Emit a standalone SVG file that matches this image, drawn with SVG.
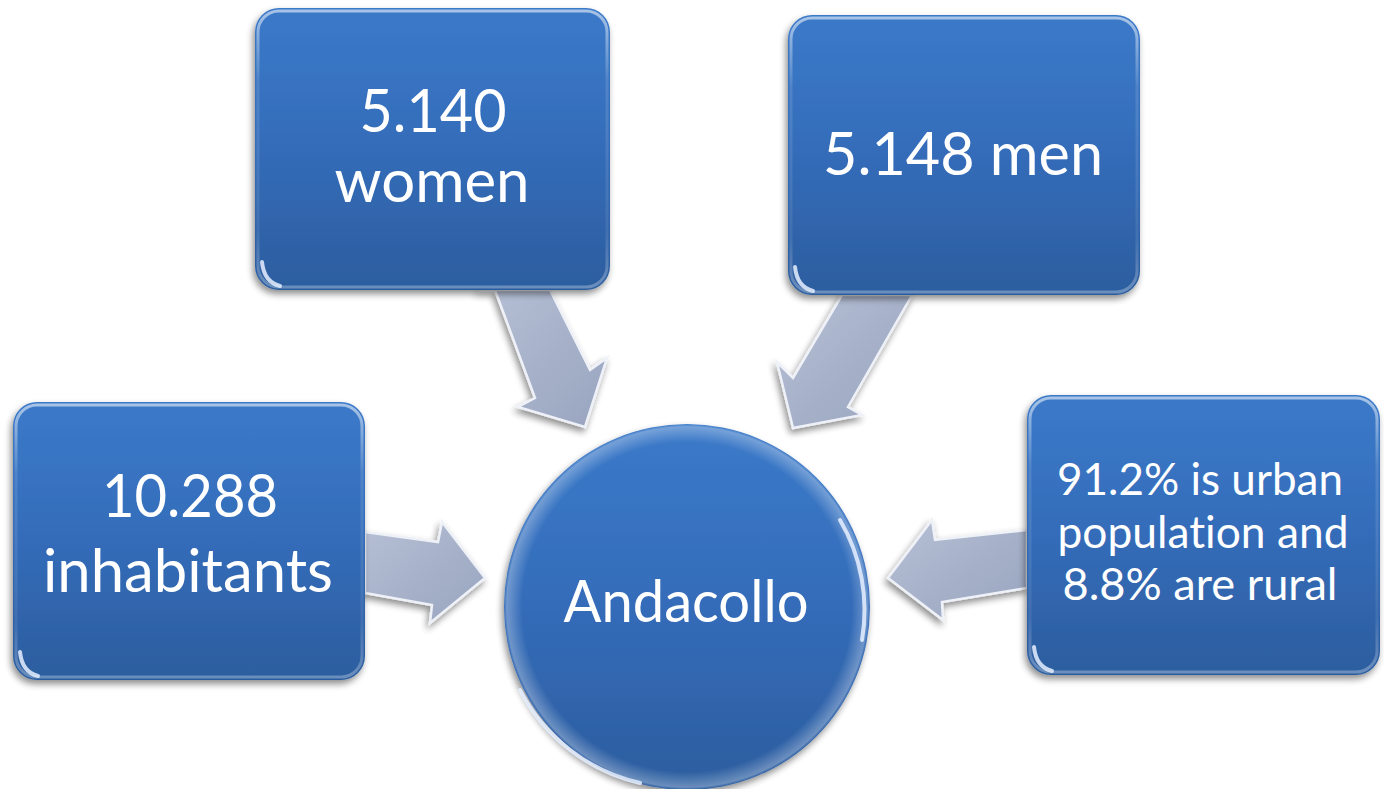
<svg xmlns="http://www.w3.org/2000/svg" width="1384" height="789" viewBox="0 0 1384 789">
  <defs>
    <linearGradient id="boxFill" x1="0" y1="0" x2="0" y2="1">
      <stop offset="0" stop-color="#3b7ac9"/>
      <stop offset="0.5" stop-color="#346cb9"/>
      <stop offset="1" stop-color="#2c5d9f"/>
    </linearGradient>
    <linearGradient id="rimLight" x1="0" y1="0" x2="0" y2="1">
      <stop offset="0" stop-color="#ffffff" stop-opacity="0.55"/>
      <stop offset="0.25" stop-color="#ffffff" stop-opacity="0.12"/>
      <stop offset="0.8" stop-color="#ffffff" stop-opacity="0.08"/>
      <stop offset="1" stop-color="#ffffff" stop-opacity="0.3"/>
    </linearGradient>
    <linearGradient id="arrowFill" x1="0" y1="0" x2="1" y2="1">
      <stop offset="0" stop-color="#b6bfd4"/>
      <stop offset="1" stop-color="#98a4bf"/>
    </linearGradient>
    <radialGradient id="circleRim" cx="0.5" cy="0.5" r="0.5">
      <stop offset="0.9" stop-color="#ffffff" stop-opacity="0"/>
      <stop offset="0.985" stop-color="#ffffff" stop-opacity="0.3"/>
      <stop offset="1" stop-color="#ffffff" stop-opacity="0"/>
    </radialGradient>
    <filter id="shadow" x="-10%" y="-10%" width="125%" height="125%">
      <feGaussianBlur in="SourceAlpha" stdDeviation="3.5"/>
      <feOffset dx="-2" dy="4" result="blur"/>
      <feComponentTransfer><feFuncA type="linear" slope="0.45"/></feComponentTransfer>
      <feMerge><feMergeNode/><feMergeNode in="SourceGraphic"/></feMerge>
    </filter>
  </defs>
  <style>
    .box { fill: url(#boxFill); filter: url(#shadow); }
    .rim { fill: none; stroke: url(#rimLight); stroke-width: 3; }
    .gloss { fill: none; stroke: #e6f0ff; stroke-width: 4; stroke-linecap: round; opacity: 0.85; }
    .arrow { fill: url(#arrowFill); stroke: #eef1f7; stroke-width: 2.5; stroke-linejoin: miter; filter: url(#shadow); }
    .label { font-family: Lato, "Open Sans", "Liberation Sans", sans-serif; fill: #ffffff; text-anchor: middle; font-variant-ligatures: none; }
    .big { font-size: 60px; }
    .small { font-size: 45px; }
  </style>

  <rect width="1384" height="789" fill="#ffffff"/>

  <!-- connectors: block arrows pointing at the centre circle -->
  <g id="connectors">
    <polygon class="arrow" points="477,290 550,290 590,370 607,358 585,427 518,407 535,398 495,290"/>
    <polygon class="arrow" points="842,295 912,295 848,407 862,415 793,428 777,362 793,378"/>
    <polygon class="arrow" points="365,532 438,542 442,522 485,578 430,623 432,605 365,593"/>
    <polygon class="arrow" points="1027,530 935,540 932,520 888,578 943,620 942,602 1027,588"/>
  </g>

  <!-- centre node -->
  <g id="node-andacollo">
    <circle class="box" cx="687" cy="607" r="183"/>
    <circle cx="687" cy="607" r="183" fill="url(#circleRim)"/>
    <path class="gloss" d="M 520,690 A 180,180 0 0 0 640,783" opacity="0.6" stroke-width="3"/>
    <path class="gloss" d="M 840,520 A 178,178 0 0 1 862,640" opacity="0.3" stroke-width="2.5"/>
    <text class="label" x="686" y="622" font-size="58" textLength="245" lengthAdjust="spacingAndGlyphs">Andacollo</text>
  </g>

  <!-- women -->
  <g id="node-women">
    <rect class="box" x="255" y="8" width="355" height="282" rx="24"/>
    <rect class="rim" x="258" y="11" width="349" height="276" rx="21"/>
    <path class="gloss" d="M 262,262 Q 264,282 280,286"/>
    <text class="label big" x="433" y="132" textLength="147" lengthAdjust="spacingAndGlyphs">5.140</text>
    <text class="label big" x="432" y="202" textLength="195" lengthAdjust="spacingAndGlyphs">women</text>
  </g>

  <!-- men -->
  <g id="node-men">
    <rect class="box" x="788" y="15" width="352" height="280" rx="24"/>
    <rect class="rim" x="791" y="18" width="346" height="274" rx="21"/>
    <path class="gloss" d="M 795,267 Q 797,287 813,291"/>
    <text class="label big" x="963" y="175" textLength="280" lengthAdjust="spacingAndGlyphs">5.148 men</text>
  </g>

  <!-- inhabitants -->
  <g id="node-inhabitants">
    <rect class="box" x="13" y="402" width="352" height="278" rx="24"/>
    <rect class="rim" x="16" y="405" width="346" height="272" rx="21"/>
    <path class="gloss" d="M 20,652 Q 22,672 38,676"/>
    <text class="label big" x="190" y="517" textLength="176" lengthAdjust="spacingAndGlyphs">10.288</text>
    <text class="label big" x="188" y="592" textLength="290" lengthAdjust="spacingAndGlyphs">inhabitants</text>
  </g>

  <!-- urban / rural -->
  <g id="node-urban-rural">
    <rect class="box" x="1027" y="395" width="353" height="280" rx="24"/>
    <rect class="rim" x="1030" y="398" width="347" height="274" rx="21"/>
    <path class="gloss" d="M 1034,647 Q 1036,667 1052,671"/>
    <text class="label small" x="1200" y="495" textLength="286" lengthAdjust="spacingAndGlyphs">91.2% is urban</text>
    <text class="label small" x="1203" y="548" textLength="291" lengthAdjust="spacingAndGlyphs">population and</text>
    <text class="label small" x="1200" y="600" textLength="275" lengthAdjust="spacingAndGlyphs">8.8% are rural</text>
  </g>
</svg>
